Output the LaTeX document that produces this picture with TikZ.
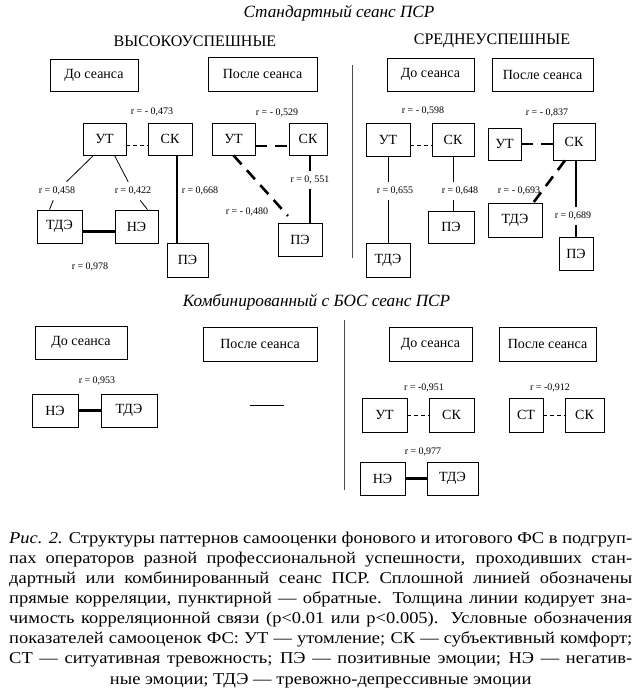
\documentclass[tikz,border=0pt]{standalone}
\usepackage{fontspec}
\setmainfont{Liberation Serif}
\newfontfamily\capfont[FakeStretch=1.12]{Liberation Serif}

\begin{document}
\begin{tikzpicture}[x=1pt, y=-1pt,
  box/.style={draw, line width=0.8pt, inner sep=0pt, font=\fontsize{14}{16}\selectfont},
  rlab/.style={inner xsep=1pt, inner ysep=5pt, font=\fontsize{10}{12}\selectfont},
  group/.style={font=\fontsize{16}{18}\selectfont},
  session/.style={font=\fontsize{17.2}{20}\selectfont\itshape},
  direct/.style={line width=0.8pt},
  directthick/.style={line width=2.6pt},
  inverse/.style={line width=0.8pt, dash pattern=on 4pt off 3pt},
  inversethick/.style={line width=2.6pt, dash pattern=on 12pt off 8pt},
  divider/.style={line width=1pt, black!70}]

\path[fill=white, use as bounding box] (0,0) rectangle (635,689);

% standard session
\node[session] (std) at (339,13) {Стандартный сеанс ПСР};
\node[group] (high) at (195,41) {ВЫСОКОУСПЕШНЫЕ};
\node[group] (mid) at (492,41) {СРЕДНЕУСПЕШНЫЕ};
\draw[divider] (352,65) -- (352,258);

% high, before
\node[box, minimum width=88pt, minimum height=32pt] (do1) at (94,75) {До сеанса};
\node[rlab] (r473) at (152,112) {r = - 0,473};
\node[box, minimum width=43pt, minimum height=32pt] (ut1) at (104.5,139) {УТ};
\node[box, minimum width=44pt, minimum height=32pt] (sk1) at (170,139) {СК};
\node[box, minimum width=45pt, minimum height=33pt] (tde1) at (59.5,226.5) {ТДЭ};
\node[box, minimum width=43pt, minimum height=33pt] (ne1) at (136.5,226.5) {НЭ};
\node[box, minimum width=41pt, minimum height=34pt] (pe1) at (187.5,260) {ПЭ};
\node[rlab] (r458) at (57,191) {r = 0,458};
\node[rlab] (r422) at (133,191) {r = 0,422};
\node[rlab] (r668) at (200,191) {r = 0,668};
\node[rlab] (r978) at (90,267) {r = 0,978};

\draw[inverse] ([yshift=-6pt]ut1.east) -- ([yshift=-6pt]ut1.east -| sk1.west);
\draw[direct] ([xshift=-11pt]ut1.south) -- (r458) -- ([xshift=-10pt]tde1.north);
\draw[direct] ([xshift=10pt]ut1.south) -- (r422) -- ([xshift=11pt]ne1.north);
\draw[directthick] ([yshift=-5pt]tde1.east) -- ([yshift=-5pt]tde1.east -| ne1.west);
\draw[directthick] ([xshift=7pt]sk1.south) -- ([xshift=7pt]sk1.south |- pe1.north);

% high, after
\node[box, minimum width=109pt, minimum height=34pt] (po1) at (262.5,74) {После сеанса};
\node[rlab] (r529) at (277,113) {r = - 0,529};
\node[box, minimum width=43pt, minimum height=32pt] (ut2) at (233.5,139) {УТ};
\node[box, minimum width=38pt, minimum height=32pt] (sk2) at (308,139) {СК};
\node[box, minimum width=44pt, minimum height=33pt] (pe2) at (300,239.5) {ПЭ};
\node[rlab] (r551) at (310,180) {r = 0, 551};
\node[rlab] (r480) at (247,212) {r = - 0,480};

\draw[inversethick] ([yshift=-7pt]ut2.east) -- ([yshift=-7pt]ut2.east -| sk2.west);
\draw[inversethick, shorten >=9pt] (ut2.south) -- ([xshift=-6pt]pe2.north);
\draw[directthick] ([xshift=2pt]sk2.south) -- (r551) -- (r551 |- pe2.north);

% middle, before
\node[box, minimum width=87pt, minimum height=33pt] (do3) at (430.5,74.5) {До сеанса};
\node[rlab] (r598) at (423,111) {r = - 0,598};
\node[box, minimum width=44pt, minimum height=33pt] (ut3) at (388,139.5) {УТ};
\node[box, minimum width=42pt, minimum height=33pt] (sk3) at (453,139.5) {СК};
\node[box, minimum width=44pt, minimum height=34pt] (tde3) at (388,260) {ТДЭ};
\node[box, minimum width=46pt, minimum height=32pt] (pe3) at (451,227) {ПЭ};
\node[rlab] (r655) at (395,191) {r = 0,655};
\node[rlab] (r648) at (460,191) {r = 0,648};

\draw[inverse] ([yshift=-6pt]ut3.east) -- ([yshift=-6pt]ut3.east -| sk3.west);
\draw[direct] (ut3.south) -- (ut3.south |- r655.north);
\draw[direct] (ut3.south |- r655.south) -- (tde3.north);
\draw[direct] (sk3.south) -- (sk3.south |- r648.north);
\draw[direct] (sk3.south |- r648.south) -- (sk3.south |- pe3.north);

% middle, after
\node[box, minimum width=101pt, minimum height=33pt] (po3) at (542.5,74.5) {После сеанса};
\node[rlab] (r837) at (547,113) {r = - 0,837};
\node[box, minimum width=33pt, minimum height=32pt] (ut4) at (504.5,144) {УТ};
\node[box, minimum width=42pt, minimum height=37pt] (sk4) at (574,141.5) {СК};
\node[box, minimum width=54pt, minimum height=34pt] (tde4) at (515,220) {ТДЭ};
\node[box, minimum width=34pt, minimum height=33pt] (pe4) at (576,253.5) {ПЭ};
\node[rlab] (r693) at (519,191) {r = - 0,693};
\node[rlab] (r689) at (573,216) {r = 0,689};

\draw[inversethick] (ut4.east) -- (ut4.east -| sk4.west);
\draw[inversethick] ([xshift=-9pt]sk4.south) -- ([xshift=-9pt]tde4.north east);
\draw[directthick] (pe4.north |- sk4.south) -- (pe4.north |- r689.north);
\draw[directthick] (pe4.north |- r689.south) -- (pe4.north);

% combined session
\node[session] (bos) at (316.5,302) {Комбинированный с БОС сеанс ПСР};
\draw[divider] (344,320) -- (344,490);

\node[box, minimum width=92pt, minimum height=33pt] (do5) at (81,342.5) {До сеанса};
\node[box, minimum width=114pt, minimum height=34pt] (po5) at (260,344) {После сеанса};
\node[rlab] (r953) at (97,381) {r = 0,953};
\node[box, minimum width=46pt, minimum height=33pt] (ne5) at (55,410.5) {НЭ};
\node[box, minimum width=56pt, minimum height=33pt] (tde5) at (129,410.5) {ТДЭ};
\draw[directthick] (ne5) -- (tde5);
\coordinate (nil1) at (250,405);
\coordinate (nil2) at (284,405);
\draw[direct] (nil1) -- (nil2);

\node[box, minimum width=83pt, minimum height=34pt] (do6) at (430.5,344) {До сеанса};
\node[box, minimum width=97pt, minimum height=34pt] (po6) at (547.5,344) {После сеанса};
\node[rlab] (r951) at (424,388) {r = -0,951};
\node[box, minimum width=45pt, minimum height=34pt] (ut6) at (384.5,415) {УТ};
\node[box, minimum width=45pt, minimum height=34pt] (sk6) at (451.5,415) {СК};
\draw[inverse] (ut6) -- (sk6);
\node[rlab] (r912) at (550,388) {r = -0,912};
\node[box, minimum width=34pt, minimum height=34pt] (st7) at (526,415) {СТ};
\node[box, minimum width=39pt, minimum height=34pt] (sk7) at (584.5,415) {СК};
\draw[inverse] (st7) -- (sk7);
\node[rlab] (r977) at (423,452) {r = 0,977};
\node[box, minimum width=45pt, minimum height=33pt] (ne6) at (382.5,478.5) {НЭ};
\node[box, minimum width=51pt, minimum height=33pt] (tde6) at (452.5,478.5) {ТДЭ};
\draw[directthick] (ne6) -- (tde6);

% caption
\node[anchor=base west, inner sep=0pt, align=left, font=\capfont\fontsize{16.5}{20.1}\selectfont] (caption) at (9,684) {%
\makebox[623pt][s]{\textit{Рис. 2.} Структуры паттернов самооценки фонового и итогового ФС в подгруп-}\\
\makebox[623pt][s]{пах операторов разной профессиональной успешности, проходивших стан-}\\
\makebox[623pt][s]{дартный или комбинированный сеанс ПСР. Сплошной линией обозначены}\\
\makebox[623pt][s]{прямые корреляции, пунктирной — обратные. Толщина линии кодирует зна-}\\
\makebox[623pt][s]{чимость корреляционной связи (p<0.01 или p<0.005). Условные обозначения}\\
\makebox[623pt][s]{показателей самооценок ФС: УТ — утомление; СК — субъективный комфорт;}\\
\makebox[623pt][s]{СТ — ситуативная тревожность; ПЭ — позитивные эмоции; НЭ — негатив-}\\
\makebox[623pt][c]{ные эмоции; ТДЭ — тревожно-депрессивные эмоции}};

\end{tikzpicture}
\end{document}
